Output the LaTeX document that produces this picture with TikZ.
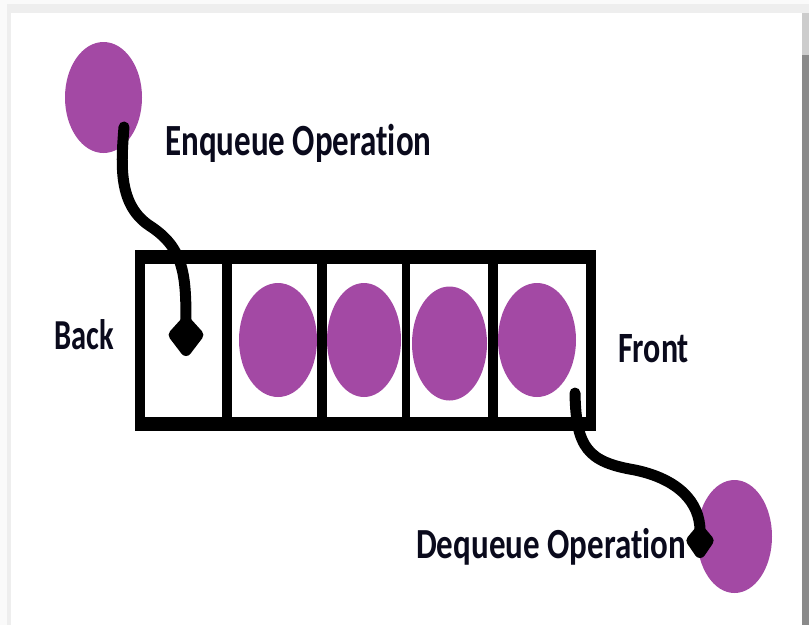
\documentclass[tikz,border=0pt]{standalone}
\usepackage{fontspec}
\setmainfont{Carlito}[Ligatures=NoCommon]
\usetikzlibrary{shapes.geometric,arrows.meta}
\definecolor{qpurple}{RGB}{163,73,164}
\definecolor{txt}{RGB}{10,10,28}
\definecolor{edge}{RGB}{238,238,238}
\definecolor{bar}{RGB}{138,138,138}
\begin{document}
\begin{tikzpicture}[x=1pt,y=-1pt,
  ball/.style 2 args={ellipse,fill=qpurple,draw=none,inner sep=0pt,minimum width=#1,minimum height=#2},
  cellbox/.style={rectangle,fill=white,draw=none,inner sep=0pt,anchor=north west,minimum height=153pt},
  lbl/.style={text=txt,inner sep=0pt,anchor=base west},
  conn/.style={line width=11pt,line cap=round,draw=black},
  enqtip/.style={-{Kite[length=46pt,width=38pt,inset=21pt,round]}},
  deqtip/.style={-{Kite[length=40pt,width=30pt,inset=18pt,round]}}
]
\useasboundingbox (0,0) rectangle (809,625);
% window background
\fill[white!98!black] (0,0) rectangle (809,625);
\fill[edge] (7,4) rectangle (809,625);
\fill[white] (11,13) rectangle (802,625);
\fill[black!20] (802,13) rectangle (809,55);
\fill[bar] (802,55) rectangle (809,625);

% balls
\node[ball={77pt}{111pt}] (src) at (103.5,97.5) {};
\node[ball={75pt}{113pt}] (dst) at (734.5,536.5) {};

% queue frame
\fill (135,250) rectangle (596,431);
\node[cellbox,minimum width=77pt] (c0) at (145,264) {};
\node[cellbox,minimum width=85pt] (c1) at (232,264) {};
\node[cellbox,minimum width=75pt] (c2) at (327,264) {};
\node[cellbox,minimum width=78pt] (c3) at (410,264) {};
\node[cellbox,minimum width=88pt] (c4) at (498,264) {};

\node[ball={78pt}{114pt}] (q1) at (278,340) {};
\node[ball={74pt}{114pt}] (q2) at (364,340) {};
\node[ball={75pt}{114pt}] (q3) at (449.5,343.5) {};
\node[ball={78pt}{114pt}] (q4) at (537,340) {};

% labels
\node[lbl,font=\bfseries\fontsize{33}{33}\selectfont] (enq) at (165,155) {\scalebox{1}[1.35]{Enqueue Operation}};
\node[lbl,font=\bfseries\fontsize{30.5}{30.5}\selectfont] (back) at (54,349) {\scalebox{1}[1.4]{Back}};
\node[lbl,font=\bfseries\fontsize{32}{32}\selectfont] (front) at (618,362) {\scalebox{1}[1.35]{Front}};
\node[lbl,font=\bfseries\fontsize{33}{33}\selectfont] (deq) at (416,558) {\scalebox{1}[1.3]{Dequeue Operation}};

% connectors
\coordinate (e0) at (124,127);
\coordinate (e1) at (186,356);
\coordinate (d0) at (575,393);
\coordinate (d1) at (700,558);
\draw[conn,enqtip] (e0) .. controls (121,165) and (118,205) .. (150,226)
   .. controls (184,248) and (186,275) .. (e1);
\draw[conn,deqtip] (d0) .. controls (576,448) and (588,462) .. (635,470)
   .. controls (678,479) and (700,502) .. (d1);
\end{tikzpicture}
\end{document}
